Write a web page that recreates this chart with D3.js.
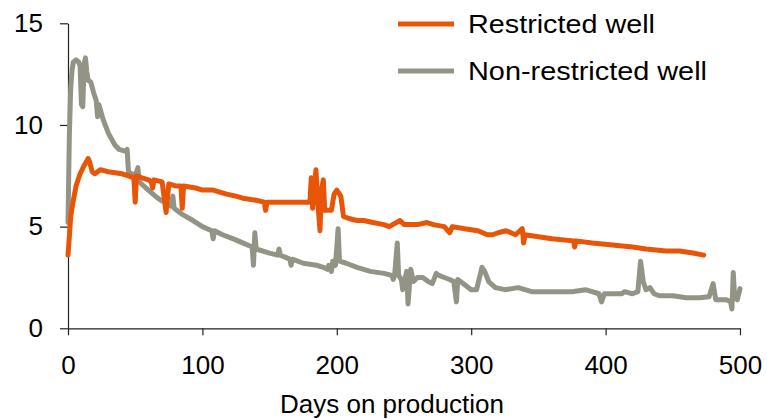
<!DOCTYPE html>
<html>
<head>
<meta charset="utf-8">
<script src="https://cdn.jsdelivr.net/npm/d3@7"></script>
<style>
	body { margin: 0; background: #fff; }
	svg { display: block; }
	text { font-family: "Liberation Sans", Arial, sans-serif; fill: #000; }
</style>
</head>
<body>
<svg class="chart"></svg>
<script>

// Series: day on production, rate
var restrictedDays = [0, 1, 2, 4, 6, 9, 12, 15, 16, 18, 20, 24, 30, 40, 45, 49, 50, 51, 55, 60, 62, 63, 64, 70, 73, 75, 80, 84, 85, 86, 95, 100, 108, 118, 125, 130, 140, 146, 147, 148, 160, 170, 180, 181, 182, 183, 184.5, 185.5, 187.5, 188.5, 190, 191, 196, 198, 200, 203, 205, 209, 215, 220, 227, 235, 239, 247, 250, 256, 260, 267, 272, 280, 284, 286, 295, 305, 312, 316, 320, 326, 333, 338, 339, 340, 350, 360, 376, 377, 378, 390, 405, 420, 430, 445, 455, 465, 473];
var restrictedValues = [3.6, 4.5, 5.5, 6.3, 7.0, 7.6, 8.0, 8.35, 8.2, 7.7, 7.6, 7.8, 7.7, 7.6, 7.5, 7.4, 6.2, 7.5, 7.4, 7.3, 7.2, 6.9, 7.3, 7.2, 5.7, 7.1, 7.0, 7.0, 5.9, 7.0, 6.9, 6.8, 6.8, 6.6, 6.5, 6.4, 6.3, 6.2, 5.8, 6.2, 6.2, 6.2, 6.2, 7.4, 5.9, 6.8, 7.8, 6.5, 4.8, 6.8, 7.3, 5.8, 5.8, 6.6, 6.8, 6.5, 5.5, 5.4, 5.3, 5.3, 5.2, 5.1, 5.0, 5.3, 5.1, 5.1, 5.1, 5.2, 5.1, 5.0, 4.7, 5.0, 4.9, 4.8, 4.6, 4.6, 4.7, 4.8, 4.6, 4.9, 4.2, 4.6, 4.5, 4.4, 4.3, 4.0, 4.3, 4.2, 4.1, 4.0, 3.9, 3.8, 3.8, 3.7, 3.6];

var nonRestrictedDays = [0, 1, 2, 3, 4, 6, 8, 9, 10, 11, 12, 13, 14, 15, 17, 19, 21, 22, 23, 26, 30, 35, 38, 43, 44, 45, 50, 52, 53, 58, 65, 69, 77, 78, 79, 85, 93, 100, 107, 108, 109, 115, 123, 130, 137, 138, 139, 140, 150, 156, 157, 158, 165, 166, 167, 175, 185, 190, 193, 194, 196, 197, 199, 201, 202, 207, 215, 225, 235, 241, 242, 243, 245, 246, 248, 249, 252, 253, 255, 257, 260, 264, 268, 271, 274, 276, 280, 284, 287, 289, 290, 294, 300, 304, 308, 310, 313, 318, 325, 335, 345, 355, 365, 375, 385, 395, 397, 399, 405, 412, 414, 420, 424, 426, 428, 430, 433, 436, 440, 450, 460, 470, 477, 480, 482, 490, 493, 494, 495, 496, 498, 500];
var nonRestrictedValues = [5.2, 9.5, 11.8, 12.7, 13.1, 13.2, 13.1, 12.9, 11.0, 10.9, 13.0, 13.3, 12.6, 12.2, 12.1, 11.6, 11.2, 10.4, 11.0, 10.3, 9.6, 9.0, 8.8, 8.7, 8.8, 7.7, 7.5, 7.9, 7.2, 6.9, 6.5, 6.3, 6.0, 6.5, 5.9, 5.6, 5.3, 5.0, 4.8, 4.4, 4.8, 4.6, 4.4, 4.2, 4.0, 3.1, 4.7, 3.9, 3.7, 3.6, 3.9, 3.6, 3.4, 3.1, 3.4, 3.2, 3.1, 3.0, 2.9, 3.1, 2.8, 3.3, 3.1, 4.9, 3.3, 3.2, 3.0, 2.8, 2.7, 2.6, 2.4, 2.6, 4.2, 2.6, 2.4, 1.9, 2.8, 1.2, 2.9, 2.3, 2.5, 2.5, 2.3, 2.2, 2.7, 2.6, 2.5, 2.4, 2.3, 1.3, 2.4, 2.2, 1.9, 1.9, 3.0, 2.8, 2.3, 2.0, 1.9, 2.0, 1.8, 1.8, 1.8, 1.8, 1.9, 1.7, 1.3, 1.7, 1.7, 1.7, 1.8, 1.7, 1.8, 3.3, 2.3, 1.9, 2.0, 1.7, 1.6, 1.6, 1.5, 1.5, 1.55, 2.2, 1.4, 1.4, 1.3, 0.95, 2.75, 1.5, 1.4, 1.95];

var seriesNames = ["Restricted well", "Non-restricted well"];
var seriesColors = ["#e95506", "#949486"];
var legendTextWidths = [187, 239];
var xTicks = [0, 100, 200, 300, 400, 500];
var yTicks = [0, 5, 10, 15];
var xTitle = "Days on production";

var svgWidth = 767,
	svgHeight = 419;

var chart = d3.select( ".chart" )
	.attr( "width", svgWidth )
	.attr( "height", svgHeight );

var chartX = 68,
	chartY = 23.3,
	chartRight = 740,
	chartBottom = 328.3;

var x = d3.scaleLinear().domain( [0, 500] ).range( [chartX, chartRight] );
var y = d3.scaleLinear().domain( [0, 15] ).range( [chartBottom, chartY] );

function zip( days, values ) {
	return days.map( function(d, i) { return [d, values[i]]; } );
}

var series = [
	zip( restrictedDays, restrictedValues ),
	zip( nonRestrictedDays, nonRestrictedValues )
];

// Axes
chart.append( "g" )
	.attr( "transform", "translate(" + chartX + ",0)" )
	.call( d3.axisLeft( y ).tickValues( yTicks ).tickSize( 8 ).tickSizeOuter( 0 ).tickPadding( 17 ) );

chart.append( "g" )
	.attr( "transform", "translate(0," + chartBottom + ")" )
	.call( d3.axisBottom( x ).tickValues( xTicks ).tickSize( 7 ).tickSizeOuter( 0 ).tickPadding( 20 ) );

chart.selectAll( ".tick text" )
	.style( "font-size", "26px" )
	.style( "font-family", "'Liberation Sans', Arial, sans-serif" );
chart.selectAll( ".domain, .tick line" )
	.attr( "stroke", "#222" )
	.attr( "stroke-width", 1.2 );

// Lines (gray first so orange sits on top)
var line = d3.line()
	.x( function(d) { return x( d[0] ); } )
	.y( function(d) { return y( d[1] ); } );

[1, 0].forEach( function(k) {
	chart.append( "path" )
		.datum( series[k] )
		.attr( "fill", "none" )
		.attr( "stroke", seriesColors[k] )
		.attr( "stroke-width", 5 )
		.attr( "stroke-linejoin", "round" )
		.attr( "stroke-linecap", "round" )
		.attr( "d", line );
});

// Legend
var legend = chart.selectAll( ".legend" )
	.data( seriesNames )
	.enter()
	.append( "g" )
	.classed( "legend", true )
	.attr( "transform", function(d, i) { return "translate(398," + (24 + i * 47) + ")"; } );

legend.append( "line" )
	.attr( "x1", 0 )
	.attr( "x2", 56 )
	.attr( "stroke", function(d, i) { return seriesColors[i]; } )
	.attr( "stroke-width", 5 );

legend.append( "text" )
	.attr( "x", 70 )
	.attr( "dy", "0.33em" )
	.attr( "textLength", function(d, i) { return legendTextWidths[i]; } )
	.attr( "lengthAdjust", "spacingAndGlyphs" )
	.style( "font-size", "26.5px" )
	.text( function(d) { return d; } );

// Axis title
chart.append( "text" )
	.attr( "x", 392 )
	.attr( "y", 413 )
	.attr( "text-anchor", "middle" )
	.style( "font-size", "26px" )
	.text( xTitle );

</script>
</body>
</html>
